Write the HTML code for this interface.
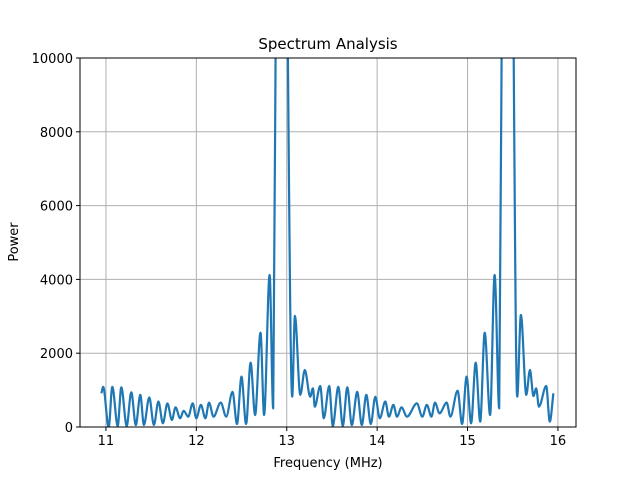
<!DOCTYPE html>
<html><head><meta charset="utf-8"><style>
body{margin:0;background:#fff}
text{font-family:"DejaVu Sans","Liberation Sans",sans-serif;fill:#000}
</style></head><body>
<svg id="chart" width="640" height="480" xmlns="http://www.w3.org/2000/svg">
<rect width="640" height="480" fill="#fff"/>
<text x="328" y="49" font-size="15" text-anchor="middle">Spectrum Analysis</text>
<g id="grid"></g>
<defs><clipPath id="clip"><rect x="80" y="58" width="496" height="369"/></clipPath></defs>
<g clip-path="url(#clip)"><path id="series" fill="none" stroke="#1f77b4" stroke-width="2.2" stroke-linejoin="round"/></g>
<rect x="80" y="58" width="496" height="369" fill="none" stroke="#000" stroke-width="1"/>
<g id="ticks"></g>
<text x="328" y="467" font-size="13" text-anchor="middle">Frequency (MHz)</text>
<text transform="translate(18,242) rotate(-90)" font-size="13" text-anchor="middle">Power</text>
</svg>
<script>
const freqs=[10.95,10.97,11.03,11.07,11.13,11.17,11.23,11.28,11.33,11.38,11.42,11.48,11.53,11.58,11.63,11.68,11.73,11.77,11.82,11.86,11.91,11.96,12.0,12.05,12.10,12.14,12.19,12.27,12.33,12.40,12.45,12.50,12.55,12.60,12.65,12.71,12.75,12.81,12.85,12.89,12.94,12.99,13.06,13.09,13.15,13.20,13.26,13.29,13.31,13.37,13.41,13.47,13.51,13.57,13.62,13.67,13.72,13.78,13.83,13.88,13.93,13.98,14.03,14.09,14.13,14.18,14.22,14.27,14.33,14.44,14.50,14.55,14.60,14.64,14.69,14.77,14.81,14.89,14.94,14.99,15.04,15.09,15.14,15.19,15.25,15.30,15.35,15.39,15.43,15.49,15.55,15.59,15.65,15.69,15.73,15.76,15.79,15.87,15.91,15.95];
const powers=[913,1090,0,1090,30,1075,30,940,55,870,55,805,55,690,100,640,190,530,235,440,280,640,235,600,235,660,280,660,280,955,80,1365,80,1745,325,2555,325,4120,505,16000,25000,16000,820,3010,870,1545,820,1050,550,1110,235,1110,30,1090,30,1075,55,955,55,870,80,820,235,690,280,600,280,530,280,640,280,600,280,660,370,660,280,985,80,1365,100,1745,145,2555,325,4120,505,16000,25000,16000,820,3035,870,1545,840,1050,550,1110,145,913];
const xTicks=[11,12,13,14,15,16];
const yTicks=[0,2000,4000,6000,8000,10000];
const X0=80,X1=576,Y0=427,Y1=58,XMIN=10.713,XMAX=16.20,YMIN=0,YMAX=10000;
const xs=v=>X0+(v-XMIN)/(XMAX-XMIN)*(X1-X0);
const ys=v=>Y0-(v-YMIN)/(YMAX-YMIN)*(Y0-Y1);
const NS='http://www.w3.org/2000/svg';
const grid=document.getElementById('grid'),ticks=document.getElementById('ticks');
function mk(tag,attrs,parent){const e=document.createElementNS(NS,tag);for(const k in attrs)e.setAttribute(k,attrs[k]);parent.appendChild(e);return e;}
xTicks.forEach(t=>{const x=xs(t);
 const g=mk('line',{x1:x,x2:x,y1:Y1,y2:Y0,stroke:'#b0b0b0','stroke-width':1},grid);
 
 
 const tk=mk('line',{x1:x,x2:x,y1:Y0,y2:Y0+4,stroke:'#000'},ticks);
 
 
 const l=mk('text',{x:x,y:Y0+18,'font-size':13,'text-anchor':'middle'},ticks);l.textContent=t;
 
 });
yTicks.forEach(t=>{const y=ys(t);
 const g=mk('line',{x1:X0,x2:X1,y1:y,y2:y,stroke:'#b0b0b0','stroke-width':1},grid);
 
 
 const tk=mk('line',{x1:X0-4,x2:X0,y1:y,y2:y,stroke:'#000'},ticks);
 
 
 const l=mk('text',{x:X0-7,y:y+5,'font-size':13,'text-anchor':'end'},ticks);l.textContent=t;
 
 });
// monotone cubic (no overshoot)
const P=freqs.map((f,i)=>[xs(f),ys(powers[i])]);
const n=P.length,m=[],sl=[];
for(let i=0;i<n-1;i++)sl.push((P[i+1][1]-P[i][1])/(P[i+1][0]-P[i][0]));
for(let i=0;i<n;i++){
 if(i===0)m.push(sl[0]);else if(i===n-1)m.push(sl[n-2]);
 else if(sl[i-1]*sl[i]<=0)m.push(0);
 else{const h0=P[i][0]-P[i-1][0],h1=P[i+1][0]-P[i][0];m.push(3*(h0+h1)/((2*h1+h0)/sl[i-1]+(h1+2*h0)/sl[i]));}
}
let d='M'+P[0][0].toFixed(1)+' '+P[0][1].toFixed(1);
for(let i=0;i<n-1;i++){
 const h=(P[i+1][0]-P[i][0])/3;
 d+=' C'+(P[i][0]+h).toFixed(1)+' '+(P[i][1]+m[i]*h).toFixed(1)+' '+(P[i+1][0]-h).toFixed(1)+' '+(P[i+1][1]-m[i+1]*h).toFixed(1)+' '+P[i+1][0].toFixed(1)+' '+P[i+1][1].toFixed(1);
}
document.getElementById('series').setAttribute('d',d);
</script>
</body></html>
